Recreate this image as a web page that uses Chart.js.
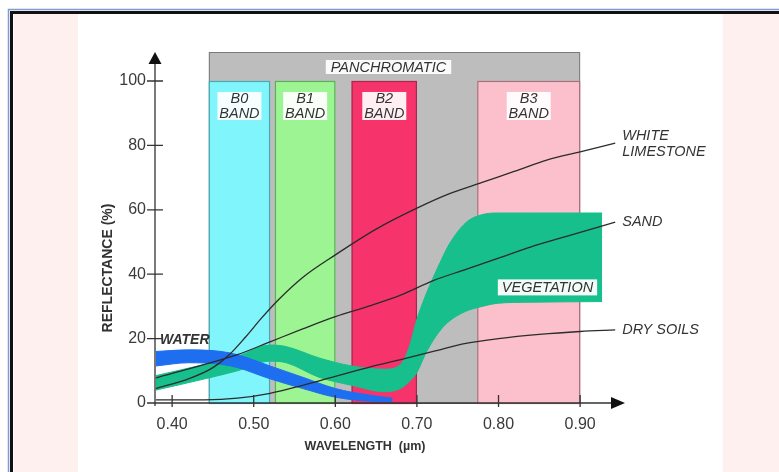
<!DOCTYPE html>
<html>
<head>
<meta charset="utf-8">
<script src="https://cdn.jsdelivr.net/npm/chart.js@4.4.0/dist/chart.umd.min.js"></script>
<style>
  html, body { margin: 0; padding: 0; background: #fff; }
  canvas { display: block; }
</style>
</head>
<body>
<canvas id="spectra" width="779" height="472"></canvas>
<script>
// wavelength (µm) -> reflectance (%)
const limestoneWl  = [0.38, 0.42, 0.45, 0.47, 0.49, 0.51, 0.53, 0.56, 0.60, 0.65, 0.70, 0.74, 0.78, 0.82, 0.86, 0.90, 0.943];
const limestoneRef = [4.5, 7.5, 11, 15, 20.5, 26.5, 32, 39, 46, 54, 60.5, 65, 68.5, 72, 75.5, 78, 80.7];

const sandWl  = [0.38, 0.44, 0.48, 0.52, 0.56, 0.60, 0.64, 0.68, 0.72, 0.76, 0.80, 0.84, 0.88, 0.943];
const sandRef = [7.8, 12, 15, 19, 23, 26.8, 30, 33.5, 38, 41.5, 45, 48.5, 51.5, 56.2];

const drySoilWl  = [0.38, 0.44, 0.48, 0.52, 0.56, 0.60, 0.64, 0.68, 0.72, 0.76, 0.80, 0.85, 0.90, 0.943];
const drySoilRef = [1, 1, 1.5, 3, 5.5, 8.3, 11, 13.5, 16, 18.5, 20, 21.3, 22.2, 22.7];

const waterWl   = [0.38, 0.42, 0.46, 0.48, 0.52, 0.56, 0.60, 0.64, 0.67];
const waterHigh = [16, 16.5, 16, 15, 11.5, 8, 4.5, 2.5, 1.5];
const waterLow  = [11.5, 12.5, 12, 11, 7.5, 4.5, 1.8, 0.6, 0.3];

const vegWl   = [0.38, 0.44, 0.48, 0.52, 0.54, 0.58, 0.62, 0.66, 0.68, 0.69, 0.70, 0.71, 0.72, 0.73, 0.74, 0.76, 0.78, 0.80, 0.84, 0.927];
const vegHigh = [8.5, 12, 14.5, 18, 17.5, 14, 11.5, 10.5, 12, 17, 26, 33, 39, 44.5, 49.5, 56, 58.5, 59, 59, 59];
const vegLow  = [4, 7.5, 10, 13, 12.5, 8, 5.5, 3.5, 4.5, 6.5, 9.5, 15, 19.5, 23, 25.5, 28.5, 30, 31, 31.3, 31.5];

// sensor bands (µm)
const bandNames = ['B0', 'B1', 'B2', 'B3'];
const bandFrom  = [0.445, 0.526, 0.62, 0.774];
const bandTo    = [0.52, 0.60, 0.70, 0.90];
const bandTop   = 100;
const panFrom = 0.445, panTo = 0.90, panTop = 109;

const xTickValues = [0.40, 0.50, 0.60, 0.70, 0.80, 0.90];
const xTickLabels = ['0.40', '0.50', '0.60', '0.70', '0.80', '0.90'];
const yTickValues = [0, 20, 40, 60, 80, 100];
const yTickLabels = ['0', '20', '40', '60', '80', '100'];

const bandFill   = ['#80f5fb', '#9cf592', '#f6346b', '#fbc0cb'];
const bandStroke = ['#4aa9b0', '#5fae5c', '#a8284c', '#a8707c'];

function pts(xs, ys) {
    return xs.map((x, i) => ({ x: x, y: ys[i] }));
}

const thinLine = {
    borderColor: '#2b2b2b',
    borderWidth: 1.3,
    pointRadius: 0,
    fill: false,
    cubicInterpolationMode: 'monotone'
};

const decor = {
    id: 'decor',
    beforeDraw(chart) {
        const { ctx, width, height } = chart;
        ctx.save();
        ctx.fillStyle = '#fff';
        ctx.fillRect(0, 0, width, height);
        ctx.fillStyle = '#fdf0ee';
        ctx.fillRect(14, 14, 64, height - 14);
        ctx.fillRect(723, 14, width - 723, height - 14);
        // frame
        ctx.strokeStyle = '#7d9bd0';
        ctx.lineWidth = 1.5;
        ctx.beginPath();
        ctx.moveTo(8.5, height); ctx.lineTo(8.5, 9.5); ctx.lineTo(width, 9.5);
        ctx.stroke();
        ctx.strokeStyle = '#111';
        ctx.lineWidth = 3;
        ctx.beginPath();
        ctx.moveTo(11.5, height); ctx.lineTo(11.5, 12.5); ctx.lineTo(width, 12.5);
        ctx.stroke();
        ctx.restore();
    },
    beforeDatasetsDraw(chart) {
        const { ctx } = chart;
        const xs = chart.scales.x, ys = chart.scales.y;
        const y0 = ys.getPixelForValue(0);
        ctx.save();
        // panchromatic
        const pl = xs.getPixelForValue(panFrom), pr = xs.getPixelForValue(panTo);
        const pt = ys.getPixelForValue(panTop);
        ctx.fillStyle = '#bdbdbd';
        ctx.fillRect(pl, pt, pr - pl, y0 - pt);
        ctx.strokeStyle = '#7a7a7a';
        ctx.lineWidth = 1;
        ctx.strokeRect(pl + 0.5, pt + 0.5, pr - pl - 1, y0 - pt);

        const bt = ys.getPixelForValue(bandTop);
        bandNames.forEach((name, i) => {
            const l = xs.getPixelForValue(bandFrom[i]), r = xs.getPixelForValue(bandTo[i]);
            ctx.fillStyle = bandFill[i];
            ctx.fillRect(l, bt, r - l, y0 - bt);
            ctx.strokeStyle = bandStroke[i];
            ctx.lineWidth = 1.2;
            ctx.strokeRect(l + 0.5, bt + 0.5, r - l - 1, y0 - bt);
        });

        // labels on bands
        ctx.font = 'italic 14.5px "Liberation Sans", Arial, sans-serif';
        ctx.textAlign = 'center';
        ctx.textBaseline = 'middle';
        bandNames.forEach((name, i) => {
            const cx = (xs.getPixelForValue(bandFrom[i]) + xs.getPixelForValue(bandTo[i])) / 2;
            ctx.fillStyle = 'rgba(255,255,255,0.92)';
            ctx.fillRect(cx - 22, bt + 11, 44, 28);
            ctx.fillStyle = '#333';
            ctx.fillText(name, cx, bt + 17.5);
            ctx.fillText('BAND', cx, bt + 32.5);
        });
        const pcx = (pl + pr) / 2 - 6;
        const pw = ctx.measureText('PANCHROMATIC').width + 10;
        ctx.fillStyle = 'rgba(255,255,255,0.92)';
        ctx.fillRect(pcx - pw / 2, pt + 8, pw, 14);
        ctx.fillStyle = '#333';
        ctx.fillText('PANCHROMATIC', pcx, pt + 15.5);
        ctx.restore();
    },
    afterDatasetsDraw(chart) {
        const { ctx, chartArea } = chart;
        const xs = chart.scales.x, ys = chart.scales.y;
        const L = chartArea.left, B = chartArea.bottom, T = chartArea.top, R = chartArea.right;
        ctx.save();
        ctx.strokeStyle = '#333';
        ctx.fillStyle = '#111';
        ctx.lineWidth = 1.3;
        // axes
        ctx.beginPath();
        ctx.moveTo(L, B + 3); ctx.lineTo(L, T + 10);
        ctx.moveTo(L - 5, B); ctx.lineTo(R - 12, B);
        yTickValues.forEach(v => {
            const y = ys.getPixelForValue(v);
            ctx.moveTo(L - 8, y); ctx.lineTo(L + 8, y);
        });
        xTickValues.forEach(v => {
            const x = xs.getPixelForValue(v);
            ctx.moveTo(x, B - 8); ctx.lineTo(x, B + 4);
        });
        ctx.stroke();
        ctx.beginPath();
        ctx.moveTo(L, T); ctx.lineTo(L - 6.5, T + 12); ctx.lineTo(L + 6.5, T + 12); ctx.closePath();
        ctx.fill();
        ctx.beginPath();
        ctx.moveTo(R, B); ctx.lineTo(R - 14, B - 6); ctx.lineTo(R - 14, B + 6); ctx.closePath();
        ctx.fill();

        // curve labels
        ctx.fillStyle = '#333';
        ctx.textAlign = 'left';
        ctx.textBaseline = 'middle';
        ctx.font = 'italic 14.5px "Liberation Sans", Arial, sans-serif';
        const endX = a => xs.getPixelForValue(a[a.length - 1]) + 7;
        const endY = a => ys.getPixelForValue(a[a.length - 1]);
        ctx.fillText('WHITE', endX(limestoneWl), endY(limestoneRef) - 7.5);
        ctx.fillText('LIMESTONE', endX(limestoneWl), endY(limestoneRef) + 8.5);
        ctx.fillText('SAND', endX(sandWl), endY(sandRef));
        ctx.fillText('DRY SOILS', endX(drySoilWl), endY(drySoilRef));

        const vx = xs.getPixelForValue(0.86), vy = ys.getPixelForValue(35.9);
        ctx.textAlign = 'center';
        const vw = ctx.measureText('VEGETATION').width + 8;
        ctx.fillStyle = 'rgba(255,255,255,0.95)';
        ctx.fillRect(vx - vw / 2, vy - 8, vw, 16);
        ctx.fillStyle = '#333';
        ctx.fillText('VEGETATION', vx, vy + 0.5);

        ctx.textAlign = 'left';
        ctx.font = 'bold italic 14px "Liberation Sans", Arial, sans-serif';
        ctx.fillText('WATER', L + 5, ys.getPixelForValue(20) + 2);

        // axis titles
        ctx.textAlign = 'center';
        ctx.font = 'bold 12.5px "Liberation Sans", Arial, sans-serif';
        ctx.fillText('WAVELENGTH  (µm)', L + 210, B + 44);
        ctx.translate(108, 268);
        ctx.rotate(-Math.PI / 2);
        ctx.font = 'bold 14px "Liberation Sans", Arial, sans-serif';
        ctx.fillText('REFLECTANCE (%)', 0, 0);
        ctx.restore();
    }
};

new Chart(document.getElementById('spectra'), {
    type: 'line',
    data: {
        datasets: [
            Object.assign({ label: 'White limestone', data: pts(limestoneWl, limestoneRef) }, thinLine),
            Object.assign({ label: 'Sand', data: pts(sandWl, sandRef) }, thinLine),
            Object.assign({ label: 'Dry soils', data: pts(drySoilWl, drySoilRef) }, thinLine),
            {
                label: 'Water', data: pts(waterWl, waterHigh),
                borderColor: '#1e6ef0', backgroundColor: '#1e6ef0', borderWidth: 1,
                pointRadius: 0, fill: '+1', cubicInterpolationMode: 'monotone'
            },
            {
                label: 'Water low', data: pts(waterWl, waterLow),
                borderColor: '#1e6ef0', borderWidth: 1, pointRadius: 0, fill: false,
                cubicInterpolationMode: 'monotone'
            },
            {
                label: 'Vegetation', data: pts(vegWl, vegHigh),
                borderColor: '#16bf8b', backgroundColor: '#16bf8b', borderWidth: 1,
                pointRadius: 0, fill: '+1', cubicInterpolationMode: 'monotone'
            },
            {
                label: 'Vegetation low', data: pts(vegWl, vegLow),
                borderColor: '#16bf8b', borderWidth: 1, pointRadius: 0, fill: false,
                cubicInterpolationMode: 'monotone'
            }
        ]
    },
    options: {
        responsive: false,
        animation: false,
        layout: { padding: { top: 52, right: 154, bottom: 0, left: 0 } },
        plugins: {
            legend: { display: false },
            tooltip: { enabled: false }
        },
        scales: {
            x: {
                type: 'linear',
                min: 0.379,
                max: 0.955,
                afterBuildTicks: s => { s.ticks = xTickValues.map(v => ({ value: v })); },
                afterFit: s => { s.height = 69; },
                grid: { display: false, drawTicks: false },
                border: { display: false },
                ticks: {
                    callback: (v, i) => xTickLabels[i],
                    font: { family: '"Liberation Sans", Arial, sans-serif', size: 16 },
                    color: '#3a3a3a',
                    padding: 12,
                    maxRotation: 0
                }
            },
            y: {
                min: 0,
                max: 109,
                afterBuildTicks: s => { s.ticks = yTickValues.map(v => ({ value: v })); },
                afterFit: s => { s.width = 155; },
                grid: { display: false, drawTicks: false },
                border: { display: false },
                ticks: {
                    callback: (v, i) => yTickLabels[i],
                    font: { family: '"Liberation Sans", Arial, sans-serif', size: 16 },
                    color: '#3a3a3a',
                    padding: 9
                }
            }
        }
    },
    plugins: [decor]
});
</script>
</body>
</html>
